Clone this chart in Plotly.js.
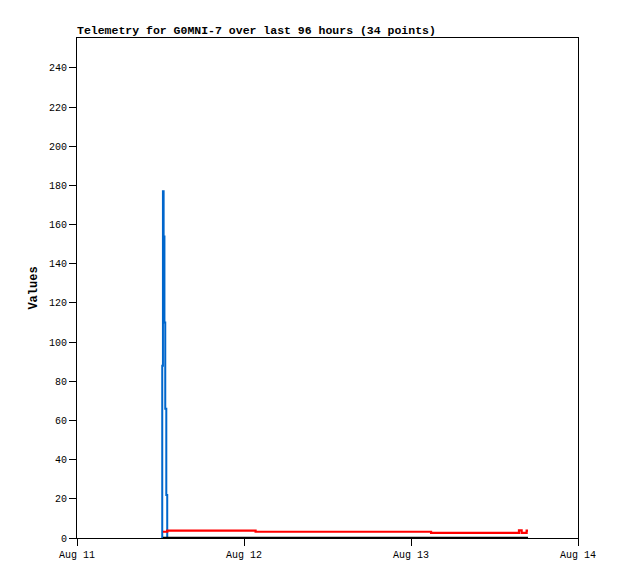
<!DOCTYPE html>
<html>
<head>
<meta charset="utf-8">
<script src="https://cdn.plot.ly/plotly-3.0.1.min.js"></script>
<style>html,body{margin:0;padding:0;background:#fff;}#chart{width:618px;height:579px;}</style>
</head>
<body>
<div id="chart"></div>
<script>
const times = [
  "2024-08-11 12:06", "2024-08-11 12:15", "2024-08-11 12:21", "2024-08-11 12:27",
  "2024-08-11 12:34", "2024-08-11 12:41", "2024-08-11 12:50", "2024-08-11 12:58",
  "2024-08-11 15:00", "2024-08-11 17:10", "2024-08-11 19:20", "2024-08-11 21:30",
  "2024-08-11 23:40", "2024-08-12 01:40", "2024-08-12 04:00", "2024-08-12 07:00",
  "2024-08-12 10:00", "2024-08-12 13:00", "2024-08-12 16:00", "2024-08-12 19:00",
  "2024-08-12 22:00", "2024-08-13 01:00", "2024-08-13 02:53", "2024-08-13 05:30",
  "2024-08-13 08:00", "2024-08-13 10:30", "2024-08-13 13:00", "2024-08-13 14:00",
  "2024-08-13 15:00", "2024-08-13 15:31", "2024-08-13 15:54", "2024-08-13 16:10",
  "2024-08-13 16:37", "2024-08-13 16:49"
];
const blueValues = [
  0, 88, 177, 154, 110, 66, 22, 0,
  0, 0, 0, 0, 0, 0, 0, 0, 0, 0, 0, 0, 0, 0, 0, 0, 0, 0, 0, 0, 0, 0, 0, 0, 0, 0
];
const redValues = [
  null, null, 3.2, 3.2, 3.2, 3.2, 3.2, 3.8,
  3.8, 3.8, 3.8, 3.8, 3.8, 3.2, 3.2, 3.2,
  3.2, 3.2, 3.2, 3.2, 3.2, 3.2, 2.6, 2.6,
  2.6, 2.6, 2.6, 2.6, 2.6, 3.9, 2.6, 2.6,
  3.8, 3.8
];
const blackValues = [
  null, null, 0, 0, 0, 0, 0, 0, 0, 0, 0, 0, 0, 0, 0, 0, 0,
  0, 0, 0, 0, 0, 0, 0, 0, 0, 0, 0, 0, 0, 0, 0, 0, 0
];
const xTickVals = ["2024-08-11", "2024-08-12", "2024-08-13", "2024-08-14"];
const xTickText = ["Aug 11", "Aug 12", "Aug 13", "Aug 14"];
const yTickVals = [0, 20, 40, 60, 80, 100, 120, 140, 160, 180, 200, 220, 240];

const mono = "Liberation Mono, DejaVu Sans Mono, monospace";

const traces = [
  {x: times, y: blueValues, type: "scatter", mode: "lines",
   line: {color: "#0066cc", width: 2, shape: "hv"}, connectgaps: false, hoverinfo: "skip"},
  {x: times, y: redValues, type: "scatter", mode: "lines",
   line: {color: "#ff0000", width: 2.2, shape: "hv"}, connectgaps: false, hoverinfo: "skip"},
  {x: times, y: blackValues, type: "scatter", mode: "lines",
   line: {color: "#000000", width: 2.5, shape: "hv"}, connectgaps: false, hoverinfo: "skip"}
];

const layout = {
  width: 618, height: 579,
  margin: {l: 77, r: 40, t: 38, b: 41, pad: 0},
  paper_bgcolor: "#ffffff", plot_bgcolor: "#ffffff",
  showlegend: false,
  font: {family: mono, size: 10, color: "#000"},
  title: {
    text: "<b>Telemetry for G0MNI-7 over last 96 hours (34 points)</b>",
    font: {family: mono, size: 11.5, color: "#000"},
    xref: "container", yref: "container",
    x: 77/618, xanchor: "left",
    y: 1 - 30/579, yanchor: "middle"
  },
  xaxis: {
    type: "date",
    range: ["2024-08-11 00:00", "2024-08-14 00:00"],
    tickmode: "array", tickvals: xTickVals, ticktext: xTickText,
    ticks: "outside", ticklen: 7, tickwidth: 1, tickcolor: "#000",
    showline: true, linecolor: "#000", linewidth: 1, mirror: true,
    showgrid: false, zeroline: false,
    tickfont: {family: mono, size: 10, color: "#000"}
  },
  yaxis: {
    range: [0, 255.3],
    tickmode: "array", tickvals: yTickVals,
    ticks: "outside", ticklen: 7, tickwidth: 1, tickcolor: "#000",
    showline: true, linecolor: "#000", linewidth: 1, mirror: true,
    showgrid: false, zeroline: false,
    tickfont: {family: mono, size: 10, color: "#000"},
    title: {text: "<b>Values</b>", font: {family: mono, size: 12, color: "#000"}, standoff: 8}
  }
};

Plotly.newPlot("chart", traces, layout, {staticPlot: true, displayModeBar: false});
</script>
</body>
</html>
